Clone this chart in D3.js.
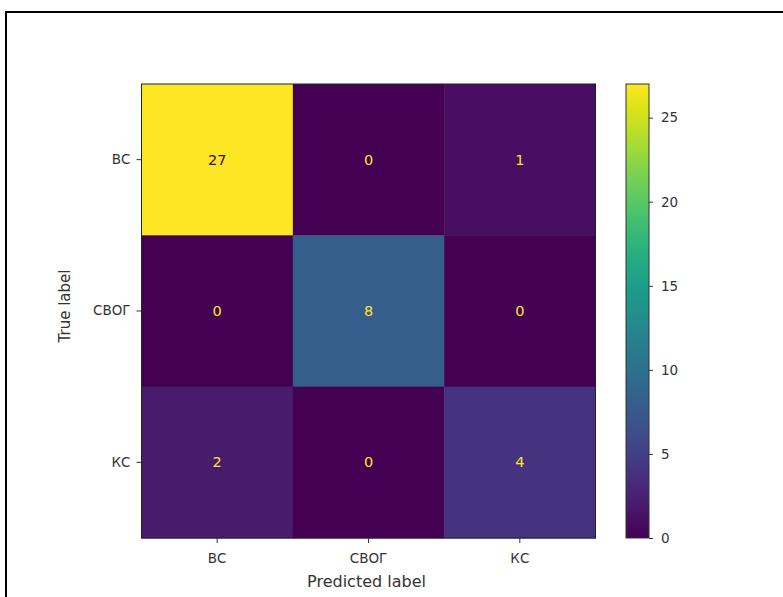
<!DOCTYPE html>
<html>
<head>
<meta charset="utf-8">
<script src="https://cdn.jsdelivr.net/npm/d3@7"></script>
<style>
  html, body { margin: 0; padding: 0; background: #fff; }
  svg { display: block; }
  text { font-family: "DejaVu Sans", sans-serif; }
</style>
</head>
<body>
<svg id="chart" width="783" height="597"></svg>
<script>
// ---- data ----
const trueLabels = ["ВС", "СВОГ", "КС"];
const predictedLabels = ["ВС", "СВОГ", "КС"];
const rowBC = [27, 0, 1];
const rowSVOG = [0, 8, 0];
const rowKS = [2, 0, 4];
const colorbarTicks = [0, 5, 10, 15, 20, 25];
const xTitle = "Predicted label";
const yTitle = "True label";

(function () {
const rows = [rowBC, rowSVOG, rowKS];
const cells = [];
rows.forEach((r, i) => r.forEach((v, j) => cells.push({ t: trueLabels[i], p: predictedLabels[j], v })));

const svg = d3.select("#chart");

// outer frame
svg.append("rect")
  .attr("x", 6).attr("y", 12).attr("width", 800).attr("height", 620)
  .attr("fill", "none").attr("stroke", "#000").attr("stroke-width", 2);

const mLeft = 141.5, mTop = 84, size = 454;
const x = d3.scaleBand().domain(predictedLabels).range([mLeft, mLeft + size]);
const y = d3.scaleBand().domain(trueLabels).range([mTop, mTop + size]);
const vmin = d3.min(cells, d => d.v), vmax = d3.max(cells, d => d.v);
const color = d3.scaleSequential(d3.interpolateViridis).domain([vmin, vmax]);
const thresh = (vmin + vmax) / 2;

const g = svg.append("g");
g.selectAll("rect.cell").data(cells).join("rect")
  .attr("class", "cell")
  .attr("x", d => x(d.p)).attr("y", d => y(d.t))
  .attr("width", x.bandwidth() + 0.5).attr("height", y.bandwidth() + 0.5)
  .attr("fill", d => color(d.v));

g.selectAll("text.val").data(cells).join("text")
  .attr("class", "val")
  .attr("x", d => x(d.p) + x.bandwidth() / 2)
  .attr("y", d => y(d.t) + y.bandwidth() / 2)
  .attr("text-anchor", "middle").attr("dominant-baseline", "central")
  .attr("font-size", 14.5)
  .attr("fill", d => d.v < thresh ? color(vmax) : color(vmin))
  .text(d => d.v);

// frame of matrix
g.append("rect")
  .attr("x", mLeft).attr("y", mTop).attr("width", size).attr("height", size)
  .attr("fill", "none").attr("stroke", "#222").attr("stroke-width", 1);

// axes
const xAxis = svg.append("g").attr("transform", `translate(0,${mTop + size})`)
  .call(d3.axisBottom(x).tickSize(5).tickPadding(10));
const yAxis = svg.append("g").attr("transform", `translate(${mLeft},0)`)
  .call(d3.axisLeft(y).tickSize(5).tickPadding(6));
[xAxis, yAxis].forEach(a => {
  a.select(".domain").remove();
  a.selectAll("line").attr("stroke", "#333");
  a.selectAll("text").attr("font-size", 13.5).attr("fill", "#333")
    .attr("font-family", "DejaVu Sans, sans-serif");
});

svg.append("text")
  .attr("x", mLeft + size / 2 - 2).attr("y", 587)
  .attr("text-anchor", "middle").attr("font-size", 16).attr("fill", "#333")
  .text(xTitle);
svg.append("text")
  .attr("transform", `translate(70,${mTop + size / 2 - 5}) rotate(-90)`)
  .attr("text-anchor", "middle").attr("font-size", 15).attr("fill", "#333")
  .text(yTitle);

// colorbar
const cbX = 626, cbW = 23;
const cy = d3.scaleLinear().domain([vmin, vmax]).range([mTop + size, mTop]);
const defs = svg.append("defs");
const grad = defs.append("linearGradient").attr("id", "cbgrad")
  .attr("x1", 0).attr("y1", 1).attr("x2", 0).attr("y2", 0);
d3.range(0, 1.0001, 0.05).forEach(t => {
  grad.append("stop").attr("offset", t).attr("stop-color", d3.interpolateViridis(t));
});
svg.append("rect")
  .attr("x", cbX).attr("y", mTop).attr("width", cbW).attr("height", size)
  .attr("fill", "url(#cbgrad)").attr("stroke", "#333").attr("stroke-width", 1);
const cbAxis = svg.append("g").attr("transform", `translate(${cbX + cbW},0)`)
  .call(d3.axisRight(cy).tickValues(colorbarTicks).tickSize(4).tickPadding(8));
cbAxis.select(".domain").remove();
cbAxis.selectAll("line").attr("stroke", "#333");
cbAxis.selectAll("text").attr("font-size", 13.5).attr("fill", "#333")
  .attr("font-family", "DejaVu Sans, sans-serif");
})();
</script>
</body>
</html>
